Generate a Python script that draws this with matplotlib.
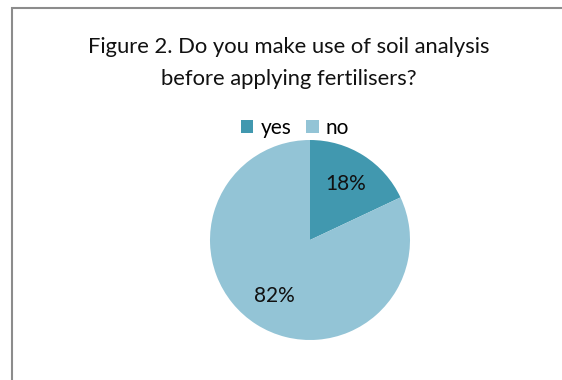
import matplotlib.pyplot as plt
from matplotlib.patches import Rectangle

labels = ['yes', 'no']
shares = [18, 82]
colors = ['#4198AF', '#93C4D6']
title_lines = ['Figure 2. Do you make use of soil analysis',
               'before applying fertilisers?']

plt.rcParams['font.family'] = ['Lato', 'DejaVu Sans']

W, H = 562, 380
fig = plt.figure(figsize=(W / 100, H / 100), dpi=100)

# chart frame, only top and left edges fall inside the image
fig.patches.append(Rectangle((11.5 / W, -0.1), 2, 1 - 7.5 / H + 0.1,
                             transform=fig.transFigure, fill=False,
                             edgecolor='#8c8c8c', linewidth=1.5))

ax = fig.add_axes([210 / W, 40 / H, 200 / W, 200 / H])
wedges, texts, autotexts = ax.pie(shares, colors=colors, startangle=90,
                                  counterclock=False, autopct='%d%%',
                                  pctdistance=0.66, radius=1.0)
for t in autotexts:
    t.set_fontsize(15)
    t.set_color('#111111')
ax.set_xlim(-1, 1)
ax.set_ylim(-1, 1)
ax.set_aspect('equal')

for line, y in zip(title_lines, [53, 85]):
    fig.text(289 / W, 1 - y / H, line, ha='center', va='baseline',
             fontsize=15.8, color='#111111')

fig.legend(wedges, labels, loc='center', bbox_to_anchor=(295 / W, 1 - 128 / H),
           ncol=2, frameon=False, fontsize=15, handlelength=0.6,
           handleheight=0.6, handletextpad=0.35, columnspacing=0.7)

fig.savefig('out.png', dpi=100)
